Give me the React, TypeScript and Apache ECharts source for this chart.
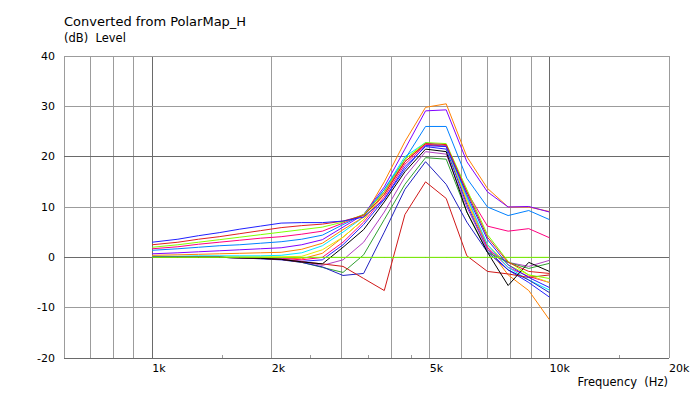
import React, { useEffect, useRef } from "react";
import * as echarts from "echarts";

// Frequency points (Hz) of every curve
const freqHz = [1000, 1161, 1308, 1475, 1662, 1873, 2112, 2380, 2682, 3023, 3407, 3840, 4328, 4878, 5498, 6197, 6984, 7872, 8872, 10000];

// Level values (dB) of each curve, one value per frequency point
const blueA = [3.0, 3.6, 4.3, 4.9, 5.6, 6.2, 6.8, 6.9, 6.9, 7.2, 8.0, 11.5, 17.5, 22.2, 22.0, 12.5, 3.5, -1.5, -4.0, -6.0];
const redA = [2.5, 3.0, 3.6, 4.1, 4.7, 5.3, 5.9, 6.3, 6.6, 7.2, 8.3, 12.5, 19.0, 22.6, 22.4, 13.0, 4.0, -1.0, -2.8, -3.2];
const greenA = [2.0, 2.5, 3.0, 3.5, 4.0, 4.5, 5.0, 5.5, 6.0, 7.0, 8.5, 13.0, 19.5, 22.8, 22.6, 13.5, 4.5, -0.8, -3.5, -4.2];
const magentaA = [1.7, 2.1, 2.6, 3.0, 3.4, 3.8, 4.1, 4.6, 5.2, 6.8, 8.5, 13.0, 19.0, 22.5, 22.0, 13.0, 6.2, 5.2, 5.7, 3.9];
const dodgerA = [1.4, 1.7, 2.0, 2.3, 2.5, 2.8, 3.1, 3.6, 4.4, 6.5, 8.5, 13.5, 19.5, 26.0, 26.0, 15.7, 10.0, 8.3, 9.3, 7.5];
const purpleA = [0.7, 0.9, 1.1, 1.3, 1.5, 1.7, 1.9, 2.5, 3.5, 6.0, 8.5, 14.0, 21.5, 29.1, 29.3, 19.0, 13.0, 10.0, 10.1, 9.0];
const orangeA = [0.4, 0.5, 0.6, 0.7, 0.8, 0.9, 1.0, 1.6, 2.8, 5.5, 8.0, 15.0, 23.0, 29.8, 30.5, 20.0, 13.7, 10.0, 10.0, 9.1];
const cyanA = [0.2, 0.2, 0.3, 0.3, 0.3, 0.3, 0.4, 0.9, 2.3, 5.0, 8.0, 13.5, 20.0, 22.8, 22.0, 12.0, 2.5, -2.0, -4.5, -6.5];
const yellowA = [0.1, 0.1, 0.1, 0.1, 0.1, 0.1, 0.1, 0.2, 1.5, 4.0, 7.5, 13.0, 19.5, 22.5, 22.0, 11.5, 2.5, -1.5, -3.5, -5.0];
const orangeB = [0.0, 0.0, 0.0, 0.0, 0.0, 0.0, -0.1, -0.3, 0.8, 4.0, 7.5, 12.5, 19.0, 22.5, 22.0, 11.0, 2.0, -3.5, -6.6, -12.4];
const blueB = [0.0, 0.0, 0.0, 0.0, -0.1, -0.2, -0.4, -0.8, -0.5, 2.5, 6.5, 11.5, 18.0, 22.0, 21.5, 10.5, 1.5, -2.5, -5.0, -7.9];
const magentaB = [0.0, 0.0, 0.0, 0.0, 0.0, -0.1, -0.2, -0.5, 0.0, 3.0, 7.0, 12.0, 18.5, 22.3, 22.2, 12.0, 2.0, -2.0, -3.8, -5.0];
const violetA = [0.0, 0.0, 0.0, 0.0, -0.1, -0.2, -0.3, -0.8, -1.6, -0.5, 3.0, 9.0, 16.0, 21.0, 20.5, 10.0, 1.5, -1.0, -1.8, -0.6];
const darkGreenA = [0.0, 0.0, 0.0, 0.0, -0.1, -0.2, -0.4, -1.0, -2.0, -3.0, 0.5, 7.5, 14.5, 19.8, 19.5, 9.0, 1.0, -1.0, -2.2, -1.2];
const darkBlueA = [0.0, 0.0, 0.0, 0.0, -0.1, -0.3, -0.5, -1.0, -1.9, -3.6, -3.2, 5.0, 13.5, 19.0, 14.5, 7.0, 1.0, -2.5, -4.5, -7.0];
const darkRedA = [0.0, 0.0, 0.0, 0.0, -0.1, -0.2, -0.4, -0.9, -1.3, -1.8, -4.2, -6.6, 8.5, 15.0, 11.7, 0.3, -2.8, -3.3, -4.0, -3.5];
const blackA = [0.0, 0.0, 0.0, 0.0, -0.1, -0.2, -0.4, -0.9, -1.3, 2.0, 5.5, 11.0, 17.0, 21.5, 21.0, 9.0, 1.0, -5.6, -1.0, -2.8];
const zeroRef = [0, 0, 0, 0, 0, 0, 0, 0, 0, 0, 0, 0, 0, 0, 0, 0, 0, 0, 0, 0];

const curveValues = [orangeB, blueB, magentaB, yellowA, cyanA, violetA, darkGreenA, darkBlueA, darkRedA, blackA, zeroRef, orangeA, purpleA, dodgerA, magentaA, greenA, redA, blueA];
const curveColors = ["#ff8000", "#2020ff", "#ff0080", "#e8e800", "#00e8ff", "#b040c0", "#30a030", "#2020c0", "#d01818", "#000000", "#80ff00", "#ff8000", "#8000ff", "#0080ff", "#ff0080", "#80ff00", "#e02020", "#2020ff"];

// Axis setup
const xMinHz = 600;
const xMaxHz = 20000;
const yMin = -20;
const yMax = 40;
const yStep = 10;
const vGridDarkHz = [1000, 10000];
const vGridLightHz = [600, 700, 800, 900, 2000, 3000, 4000, 5000, 6000, 7000, 8000, 9000, 20000];
const hGridDark = [-20, 0, 20];
const hGridLight = [-10, 10, 30, 40];
const minorTickHz = [1500, 2500, 3500, 4500, 15000];
const xLabelHz = [1000, 2000, 5000, 10000, 20000];
const xLabelText = ["1k", "2k", "5k", "10k", "20k"];

const FONT = "DejaVu Sans, Verdana, sans-serif";
const DARK = "#6a6a6a";
const LIGHT = "#9c9c9c";

export default function App() {
  const ref = useRef<HTMLDivElement>(null);
  useEffect(() => {
    if (!ref.current) return;
    const chart = echarts.init(ref.current, null, { renderer: "svg" });
    const lg = (f: number) => Math.log10(f);
    const crisp = (v: number) => Math.round(v - 0.5) + 0.5;

    const gridLines: any[] = [];
    vGridDarkHz.forEach((f) => gridLines.push([lg(f), 0, 1]));
    vGridLightHz.forEach((f) => gridLines.push([lg(f), 0, 0]));
    const hLines: any[] = [];
    hGridDark.forEach((v) => hLines.push([lg(xMinHz), v, 1]));
    hGridLight.forEach((v) => hLines.push([lg(xMinHz), v, 0]));
    const ticks = minorTickHz.map((f) => [lg(f), yMin]);

    const series: any[] = [
      {
        type: "custom",
        silent: true,
        z: 1,
        data: gridLines,
        encode: { x: 0, y: 1 },
        renderItem: (params: any, api: any) => {
          const x = api.value(0);
          const p1 = api.coord([x, yMin]);
          const p2 = api.coord([x, yMax]);
          const xx = crisp(p1[0]);
          return {
            type: "line",
            shape: { x1: xx, y1: p1[1], x2: xx, y2: p2[1] },
            style: { stroke: api.value(2) ? DARK : LIGHT, lineWidth: 1 },
          };
        },
      },
      {
        type: "custom",
        silent: true,
        z: 1,
        data: hLines,
        encode: { x: 0, y: 1 },
        renderItem: (params: any, api: any) => {
          const y = api.value(1);
          const p1 = api.coord([lg(xMinHz), y]);
          const p2 = api.coord([lg(xMaxHz), y]);
          const yy = crisp(p1[1]);
          return {
            type: "line",
            shape: { x1: p1[0], y1: yy, x2: p2[0], y2: yy },
            style: { stroke: api.value(2) ? DARK : LIGHT, lineWidth: 1 },
          };
        },
      },
      {
        type: "custom",
        silent: true,
        z: 1,
        data: ticks,
        encode: { x: 0, y: 1 },
        renderItem: (params: any, api: any) => {
          const p = api.coord([api.value(0), api.value(1)]);
          const xx = crisp(p[0]);
          return {
            type: "line",
            shape: { x1: xx, y1: p[1], x2: xx, y2: p[1] - 3 },
            style: { stroke: LIGHT, lineWidth: 1 },
          };
        },
      },
    ];

    curveValues.forEach((vals, i) => {
      series.push({
        type: "line",
        name: "c" + i,
        data: freqHz.map((f, k) => [lg(f), vals[k]]),
        showSymbol: false,
        symbol: "none",
        silent: true,
        z: 2,
        lineStyle: { width: 1, color: curveColors[i] },
        itemStyle: { color: curveColors[i] },
      });
    });

    chart.setOption({
      animation: false,
      backgroundColor: "#ffffff",
      grid: { left: 64, top: 56, right: 23, bottom: 35, containLabel: false, outerBoundsMode: "none" },
      xAxis: {
        type: "value",
        min: lg(xMinHz),
        max: lg(xMaxHz),
        splitLine: { show: false },
        axisLine: { show: false, onZero: false },
        axisTick: { show: false },
        axisLabel: {
          customValues: xLabelHz.map(lg),
          formatter: (v: number) => {
            const f = Math.round(Math.pow(10, v));
            const i = xLabelHz.findIndex((h) => Math.abs(h - f) < 2);
            return i >= 0 ? xLabelText[i] : "";
          },
          align: "left",
          margin: 5,
          fontSize: 11,
          fontFamily: FONT,
          color: "#000",
        },
      },
      yAxis: {
        type: "value",
        min: yMin,
        max: yMax,
        interval: yStep,
        splitLine: { show: false },
        axisLine: { show: false, onZero: false },
        axisTick: { show: false },
        axisLabel: { fontSize: 11, fontFamily: FONT, color: "#000", margin: 9 },
      },
      graphic: [
        {
          type: "text",
          left: 64,
          top: 15,
          style: { text: "Converted from PolarMap_H", fontSize: 13, fontFamily: FONT, fill: "#000" },
        },
        {
          type: "text",
          left: 64,
          top: 32,
          style: { text: "(dB)  Level", fontSize: 11.5, fontFamily: FONT, fill: "#000" },
        },
        {
          type: "text",
          right: 24,
          top: 376,
          style: { text: "Frequency  (Hz)", fontSize: 11.5, fontFamily: FONT, fill: "#000" },
        },
      ],
      series,
    });
    return () => chart.dispose();
  }, []);
  return <div ref={ref} style={{ position: "absolute", left: 0, top: 0, width: 692, height: 393 }} />;
}
